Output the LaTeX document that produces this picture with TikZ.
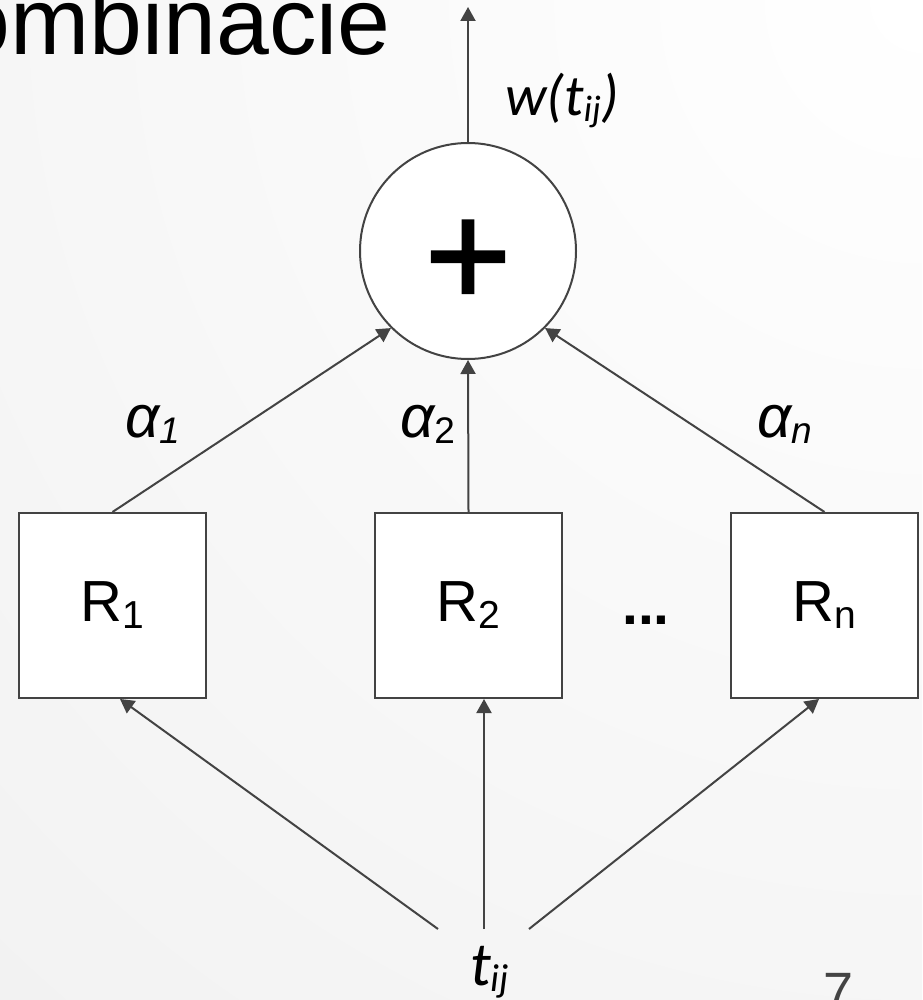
\documentclass[tikz,border=0pt]{standalone}
\usepackage{fontspec}
\setmainfont{Liberation Sans}
\newfontfamily\calib{Carlito}
\newfontfamily\plusfont[FakeBold=1.5]{Liberation Sans}
\usetikzlibrary{arrows.meta}
\definecolor{linegray}{HTML}{434343}
\definecolor{bggray}{HTML}{ECECEC}
\definecolor{pagegray}{HTML}{444444}
\newcommand{\fs}[1]{\fontsize{#1}{#1}\selectfont}
\newcommand{\mysub}[3]{\raisebox{-#2pt}{\fs{#1}#3}}
\begin{document}
\begin{tikzpicture}[x=1pt,y=-1pt,
  conn/.style={draw=linegray, line width=2pt, -{Triangle[length=14pt,width=15pt]}},
  rbox/.style={draw=linegray, line width=2pt, fill=white, minimum width=187pt, minimum height=185pt, inner sep=0pt, font=\fs{58}},
  lbl/.style={inner sep=0pt, anchor=base west},
  alph/.style={lbl, font=\fs{60}\itshape}]
\useasboundingbox (0,0) rectangle (922,1000);
\begin{scope}
  \clip (0,0) rectangle (922,1000);
  \shade[inner color=white, outer color=bggray] (922,0) circle [radius=2000pt];
\end{scope}
% title
\node[inner sep=0pt, anchor=base east, font=\fs{95}] (title) at (391,55) {ombinacie};
% sum node
\node[circle, draw=linegray, line width=2pt, fill=white, minimum size=216pt, inner sep=0pt,
      font=\plusfont\fs{148}, text height=110pt, text depth=0pt] (plus) at (468,251) {+};
\coordinate (out) at (468,7);
\draw[conn] (plus.north) -- (out);
\node[lbl, font=\calib\itshape\fs{58}] (w) at (505,116) {w(t\mysub{37}{6}{ij})};
% boxes
\node[rbox] (R1) at (112.5,605.5) {R\mysub{39}{7}{1}};
\node[rbox] (R2) at (468.5,605.5) {R\mysub{39}{7}{2}};
\node[rbox] (Rn) at (824.5,605.5) {R\mysub{39}{7}{n}};
\node[inner sep=0pt, anchor=base, font=\fs{57}\bfseries] (dots) at (646,624) {...};
% upper connectors
\draw[conn] (R1.north) -- (plus.south west);
\draw[conn] (R2.north) -- (plus.south);
\draw[conn] (Rn.north) -- (plus.south east);
\node[alph] (a1) at (125,437) {α\mysub{37}{6}{1}};
\node[alph] (a2) at (400,437) {α\mysub{37}{6}{\upshape 2}};
\node[alph] (an) at (757,437) {α\mysub{37}{6}{n}};
% input
\node[lbl, font=\calib\itshape\fs{62}] (tij) at (470,985) {t\mysub{39}{6}{ij}};
\coordinate (s1) at (438,929);
\coordinate (s2) at (484,929);
\coordinate (s3) at (529,929);
\draw[conn] (s1) -- ([xshift=7.5pt]R1.south);
\draw[conn] (s2) -- (R2.south -| s2);
\draw[conn] (s3) -- ([xshift=-5.5pt]Rn.south);
% page number
\node[lbl, text=pagegray, font=\fs{54}] (pnum) at (823,1010) {7};
\end{tikzpicture}
\end{document}
